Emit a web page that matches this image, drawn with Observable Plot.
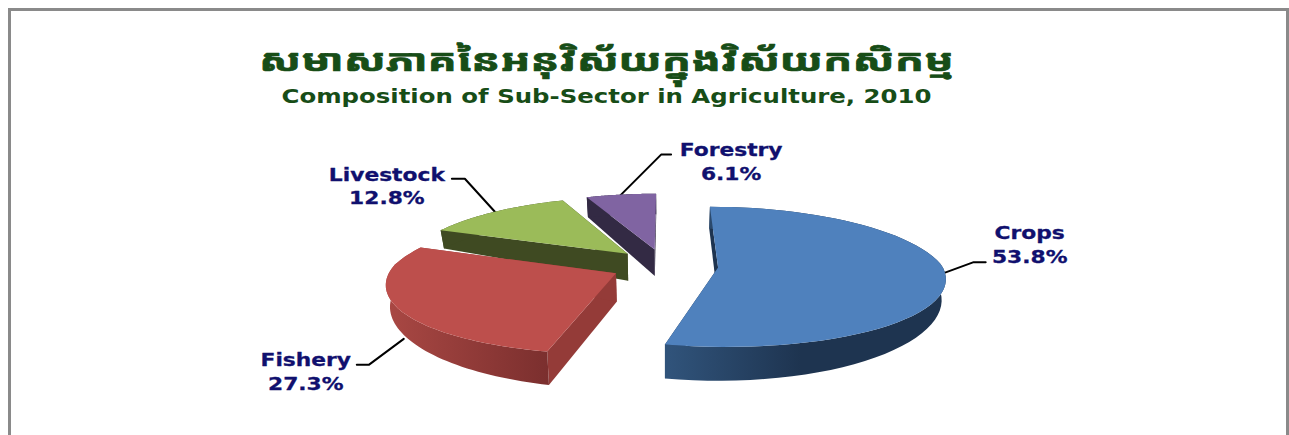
<!DOCTYPE html>
<html><head><meta charset="utf-8">
<script src="https://cdn.jsdelivr.net/npm/d3@7"></script>
<script src="https://cdn.jsdelivr.net/npm/@observablehq/plot@0.6"></script>
<style>
html,body{margin:0;padding:0;background:#fff;overflow:hidden}
#chart{position:relative;width:1289px;height:435px;overflow:hidden}
#frame{position:absolute;left:8px;top:8px;width:1275px;height:440px;border:3px solid #8a8a8a}
#chart svg{position:absolute;left:0;top:0}
</style></head><body>
<div id="chart"><div id="frame"></div></div>
<script>
// Data
const sectors = ["Crops", "Fishery", "Livestock", "Forestry"];
const shares = [53.8, 27.3, 12.8, 6.1];
const titleKhmer = "សមាសភាគនៃអនុវិស័យក្នុងវិស័យកសិកម្ម";
const titleEnglish = "Composition of Sub-Sector in Agriculture, 2010";

// Styles
const topColors = ["#4f81bd", "#bd4f4c", "#9bbb59", "#8064a2"];
const cutColors = ["#1e3450", "#943b38", "#3f4a22", "#332a44"];
const rimFills = ["url(#rimBlue)", "url(#rimRed)", "#3f4a22", "#332a44"];
const leaderNudges = [[-2, -3], [2, 6], [0, 0], [-1, 1]];
const leaderBends = [[30, -11, 42, -11], [-35, 26, -47, 26], [-30, -33, -43, -33], [41, -41, 51, -41]];
const labelShifts = [[86, -29.5], [-98, 31.5], [-108, -27], [111, -35]];

// 3-D pie view
const view = {cx: 664, cy: 265, rx: 224, ry: 71};
const explode = 0.24;
const flat = (a, off) => [Math.sin(a) + off[0], -Math.cos(a) + off[1]];
function topPt([X, Y]) {
  const far = 1 / (1 - 0.18 * Y);
  const sx = Y < 0 ? far : 1 / (1 - 0.13 * Y);
  const sy = Y < 0 ? far : 1 / (1 - 0.10 * Y);
  return [view.cx + view.rx * X * sx, view.cy + view.ry * Y * sy];
}
function botPt([X, Y]) {
  const [x, y] = topPt([X, Y]);
  const depth = 28 + 6 * Y - 5.5 * X * X;
  return [view.cx + (x - view.cx) * 0.985, y + depth];
}
const arcs = d3.pie().sort(null)(shares);
const faces = [];
function face(fill, pts) {
  faces.push({fill, pts: pts.map(p => ({x: p[0], y: p[1]}))});
}
const leaders = [], labels = [];
[3, 2, 1, 0].forEach(i => {
  const {startAngle: a0, endAngle: a1} = arcs[i];
  const mid = (a0 + a1) / 2;
  const off = [explode * Math.sin(mid), -explode * Math.cos(mid)];
  const arc = d3.range(61).map(k => flat(a0 + (a1 - a0) * k / 60, off));
  face(cutColors[i], [topPt(off), topPt(arc[0]), botPt(arc[0]), botPt(off)]);
  face(cutColors[i], [topPt(off), topPt(arc[60]), botPt(arc[60]), botPt(off)]);
  face(rimFills[i], [...arc.map(topPt), ...arc.slice().reverse().map(botPt)]);
  face(topColors[i], [topPt(off), ...arc.map(topPt)]);
  const p = flat(mid, off);
  const edge = i === 1 ? botPt(p) : topPt(p);
  const start = [edge[0] + leaderNudges[i][0], edge[1] + leaderNudges[i][1]];
  const b = leaderBends[i];
  [start, [start[0] + b[0], start[1] + b[1]], [start[0] + b[2], start[1] + b[3]]]
    .forEach(q => leaders.push({id: i, x: q[0], y: q[1]}));
  labels.push({text: `${sectors[i]}\n${shares[i].toFixed(1)}%`, x: start[0] + labelShifts[i][0], y: start[1] + labelShifts[i][1]});
});

function gradients() {
  const g0 = d3.create("svg:g");
  const defs = g0.append("defs");
  const add = (id, x1, x2, stops) => {
    const g = defs.append("linearGradient").attr("id", id).attr("gradientUnits", "userSpaceOnUse")
      .attr("x1", x1).attr("x2", x2).attr("y1", 0).attr("y2", 0);
    stops.forEach(([o, c]) => g.append("stop").attr("offset", o).attr("stop-color", c));
  };
  add("rimBlue", 669, 800, [[0, "#30537a"], [1, "#1e3450"]]);
  add("rimRed", 390, 548, [[0, "#a84743"], [1, "#7b2f2e"]]);
  return g0.node();
}

const plot = Plot.plot({
  width: 1289, height: 435, margin: 0,
  x: {domain: [0, 1289], range: [0, 1289], axis: null},
  y: {domain: [0, 435], range: [0, 435], axis: null},
  style: {background: "transparent"},
  marks: [
    gradients,
    Plot.line(leaders, {x: "x", y: "y", z: "id", stroke: "#000", strokeWidth: 2}),
    ...faces.map(f => Plot.line(f.pts, {x: "x", y: "y", fill: f.fill, stroke: "none"})),
    Plot.text(labels, {x: "x", y: "y", text: "text", fill: "#10106e", stroke: "#10106e", strokeWidth: 0.3,
      fontWeight: 700, fontFamily: "'DejaVu Sans'", fontSize: 18, lineHeight: 1.3, lineAnchor: "middle",
      className: "stretch-labels"}),
    Plot.text([titleKhmer], {x: () => 606, y: () => 61, fill: "#174d17", stroke: "#174d17", strokeWidth: 0.7,
      fontWeight: 700, fontFamily: "'Noto Sans Khmer','Khmer OS','DejaVu Sans','Noto Sans'", fontSize: 30,
      className: "stretch-km"}),
    Plot.text([titleEnglish], {x: () => 606, y: () => 96, fill: "#174d17", fontWeight: 700,
      fontFamily: "'DejaVu Sans'", fontSize: 20, className: "stretch-en"})
  ]
});
const stretch = (cls, k) => d3.select(plot).selectAll(`.${cls} text`)
  .attr("transform", function() { return `${this.getAttribute("transform") || ""} scale(${k},1)`; });
stretch("stretch-labels", 1.21);
stretch("stretch-km", 1.446);
stretch("stretch-en", 1.22);
document.getElementById("chart").appendChild(plot);
</script>
</body></html>
